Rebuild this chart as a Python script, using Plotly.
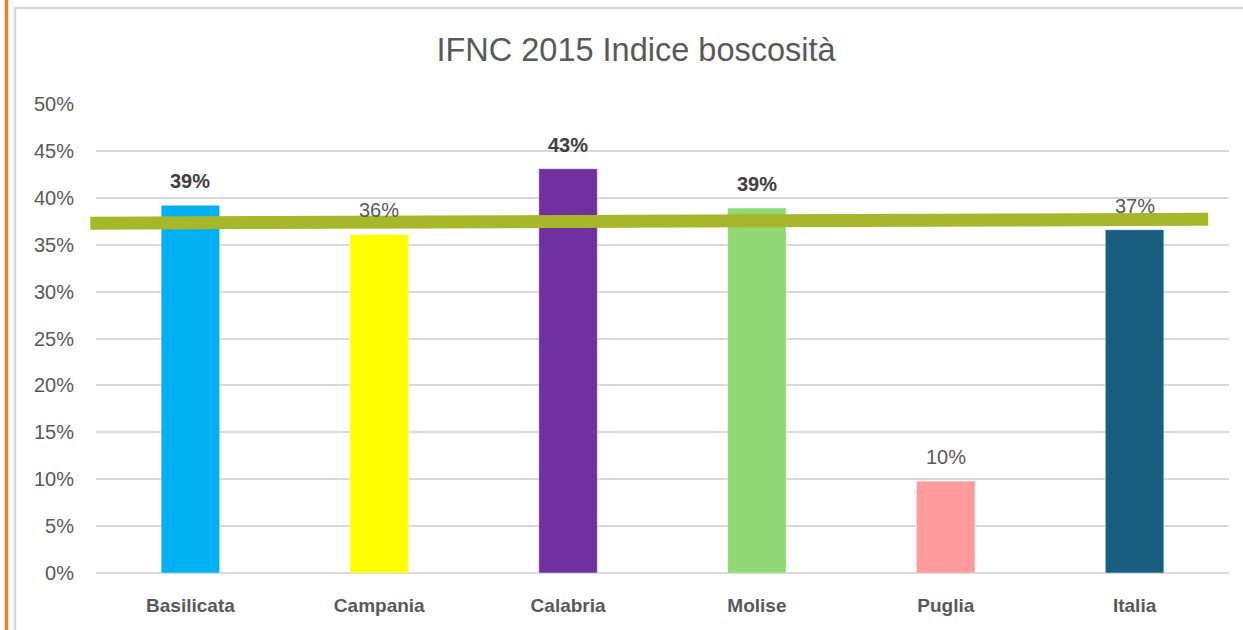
import plotly.graph_objects as go

# ---- data ----
categories = ["Basilicata", "Campania", "Calabria", "Molise", "Puglia", "Italia"]
values = [0.392, 0.361, 0.431, 0.389, 0.098, 0.366]
labels = ["39%", "36%", "43%", "39%", "10%", "37%"]
label_bold = [True, False, True, True, False, False]
bar_colors = ["#00B0F0", "#FFFF00", "#7030A0", "#8FD873", "#FF9B9B", "#175E80"]
y_ticks = [0, 0.05, 0.10, 0.15, 0.20, 0.25, 0.30, 0.35, 0.40, 0.45, 0.50]
y_tick_text = ["0%", "5%", "10%", "15%", "20%", "25%", "30%", "35%", "40%", "45%", "50%"]
y_max = 0.5
# hand-drawn reference line (category-index x, value y)
ref_line_x = [-0.53, 5.39]
ref_line_y = [0.373, 0.377]

W, H = 1243, 630
L, R, T, B = 96, 14, 104, 57
pw, ph = W - L - R, H - T - B


def px_x(p):
    return (p - L) / pw


def px_y(p):
    return (H - B - p) / ph


def cat_to_paper(i):
    return (i + 0.5) / len(categories)


fig = go.Figure()
fig.add_trace(go.Bar(
    x=categories, y=values,
    marker=dict(color=bar_colors, line=dict(color="rgba(255,255,255,0.45)", width=1)),
    width=0.31, hoverinfo="skip",
))

for c, v, t, b in zip(categories, values, labels, label_bold):
    fig.add_annotation(
        x=c, y=v, text=(f"<b>{t}</b>" if b else t), showarrow=False,
        yanchor="middle", yshift=24,
        font=dict(family="Liberation Sans, Arial, sans-serif", size=20,
                  color="#404040" if b else "#595959"),
    )

# green reference line (paper coords so it is not clipped at the plot edge)
fig.add_shape(type="line", xref="paper", yref="paper",
              x0=cat_to_paper(ref_line_x[0]), x1=cat_to_paper(ref_line_x[1]),
              y0=ref_line_y[0] / y_max, y1=ref_line_y[1] / y_max,
              line=dict(color="#A6B82A", width=13), layer="above")

# chart frame (light gray) and orange left rule
fig.add_shape(type="rect", xref="paper", yref="paper",
              x0=px_x(15), x1=px_x(W + 10), y0=px_y(H + 10), y1=px_y(8),
              line=dict(color="#D9D9D9", width=2.5), layer="below")
fig.add_shape(type="line", xref="paper", yref="paper",
              x0=px_x(6.5), x1=px_x(6.5), y0=px_y(H + 5), y1=px_y(-5),
              line=dict(color="#ED7D31", width=3.5), layer="below")

fig.update_layout(
    width=W, height=H,
    margin=dict(l=L, r=R, t=T, b=B),
    paper_bgcolor="white", plot_bgcolor="white",
    showlegend=False,
    title=dict(text="IFNC 2015 Indice boscosità", x=636 / W, xanchor="center",
               y=1 - 50 / H, yanchor="middle",
               font=dict(family="Liberation Sans, Arial, sans-serif", size=32.5, color="#595959")),
    xaxis=dict(showgrid=False, showline=False, zeroline=False, ticks="",
               tickfont=dict(family="Liberation Sans, Arial, sans-serif", size=19, color="#595959",
                             weight="bold"),
               ticklabelstandoff=19, range=[-0.5, 5.5]),
    yaxis=dict(range=[0, y_max], tickvals=y_ticks, ticktext=y_tick_text,
               showgrid=True, gridcolor="#D9D9D9", gridwidth=2,
               zeroline=True, zerolinecolor="#D9D9D9", zerolinewidth=2,
               showline=False, ticks="", ticklabelstandoff=21,
               tickfont=dict(family="Liberation Sans, Arial, sans-serif", size=20, color="#595959")),
    bargap=0.69,
)

fig.write_html("out.html", config={"displayModeBar": False},
               post_script="document.body.style.margin='0px';document.body.style.overflow='hidden';")
